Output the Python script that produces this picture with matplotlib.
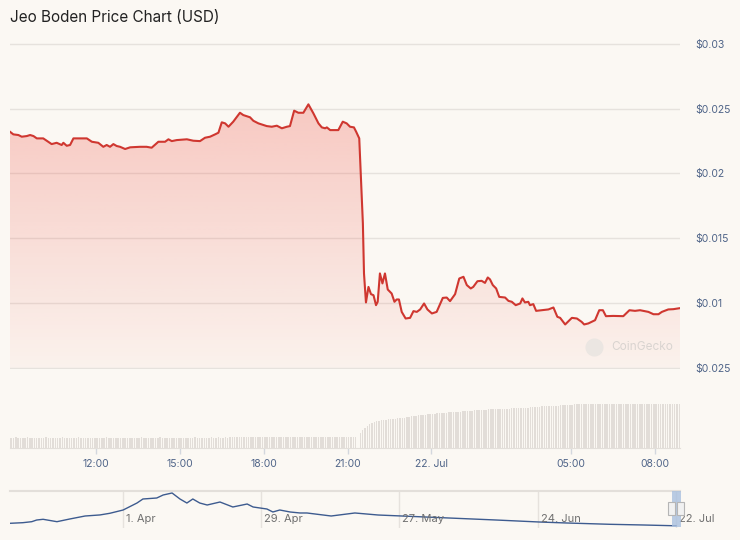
import numpy as np
import matplotlib.pyplot as plt
from matplotlib.colors import to_rgb
from matplotlib.lines import Line2D
from matplotlib.patches import Rectangle

plt.rcParams['font.family'] = ['Inter', 'DejaVu Sans']

W, H = 740, 540
BG = '#fbf8f3'
GRID = '#e6e2dd'
LABEL = '#4f6488'

# price, hours since 00:00 on 21 Jul
price_hours = [8.92, 9.04, 9.22, 9.34, 9.52, 9.64, 9.76, 9.88, 10.11, 10.41, 10.59, 10.77, 10.83,
               10.95, 11.07, 11.19, 11.67, 11.85, 12.08, 12.26, 12.38, 12.50, 12.62, 12.74, 12.86,
               13.04, 13.22, 13.57, 13.81, 13.99, 14.23, 14.47, 14.59, 14.71, 14.89, 15.25, 15.48,
               15.72, 15.90, 16.08, 16.26, 16.38, 16.50, 16.62, 16.74, 16.91, 17.04, 17.15, 17.27,
               17.51, 17.63, 17.81, 18.11, 18.29, 18.47, 18.65, 18.83, 18.94, 19.09, 19.24, 19.42,
               19.60, 19.78, 19.96, 20.08, 20.20, 20.26, 20.38, 20.67, 20.83, 20.97, 21.09, 21.23,
               21.31, 21.42, 21.55, 21.59, 21.66, 21.75, 21.84, 21.93, 22.02, 22.08, 22.16, 22.25,
               22.34, 22.44, 22.58, 22.68, 22.76, 22.84, 22.94, 23.08, 23.24, 23.36, 23.48, 23.60,
               23.74, 23.86, 24.02, 24.19, 24.41, 24.55, 24.67, 24.85, 25.00, 25.15, 25.27, 25.41,
               25.50, 25.65, 25.80, 25.92, 26.02, 26.10, 26.20, 26.32, 26.43, 26.64, 26.76, 26.88,
               27.02, 27.18, 27.26, 27.35, 27.47, 27.53, 27.65, 27.75, 27.95, 28.19, 28.37, 28.51,
               28.61, 28.79, 29.03, 29.21, 29.38, 29.47, 29.62, 29.86, 30.01, 30.14, 30.25, 30.51,
               30.87, 31.09, 31.29, 31.47, 31.77, 31.95, 32.13, 32.25, 32.48, 32.66, 32.90]
price_usd = [0.02322, 0.02302, 0.02297, 0.02284, 0.02289, 0.02297, 0.02289, 0.02271, 0.02271,
             0.02227, 0.02237, 0.02220, 0.02237, 0.02214, 0.02220, 0.02271, 0.02271, 0.02245,
             0.02237, 0.02206, 0.02220, 0.02206, 0.02227, 0.02212, 0.02206, 0.02189, 0.02202,
             0.02206, 0.02206, 0.02199, 0.02245, 0.02245, 0.02264, 0.02250, 0.02258, 0.02264,
             0.02253, 0.02250, 0.02276, 0.02284, 0.02302, 0.02315, 0.02395, 0.02387, 0.02361,
             0.02400, 0.02438, 0.02469, 0.02451, 0.02434, 0.02407, 0.02387, 0.02366, 0.02361,
             0.02369, 0.02349, 0.02361, 0.02366, 0.02485, 0.02469, 0.02469, 0.02534, 0.02464,
             0.02387, 0.02356, 0.02349, 0.02356, 0.02335, 0.02335, 0.02400, 0.02387, 0.02361,
             0.02356, 0.02322, 0.02271, 0.01614, 0.01228, 0.01004, 0.01124, 0.01068, 0.01060,
             0.00983, 0.01009, 0.01228, 0.01151, 0.01228, 0.01104, 0.01073, 0.01009, 0.01027,
             0.01027, 0.00931, 0.00880, 0.00885, 0.00937, 0.00931, 0.00950, 0.00996, 0.00950,
             0.00919, 0.00931, 0.01039, 0.01042, 0.01014, 0.01068, 0.01189, 0.01202, 0.01138,
             0.01112, 0.01124, 0.01168, 0.01171, 0.01155, 0.01197, 0.01182, 0.01138, 0.01112,
             0.01047, 0.01042, 0.01016, 0.01009, 0.00983, 0.00996, 0.01035, 0.01004, 0.01009,
             0.00983, 0.00991, 0.00939, 0.00944, 0.00950, 0.00965, 0.00893, 0.00885, 0.00834,
             0.00885, 0.00880, 0.00854, 0.00834, 0.00842, 0.00867, 0.00944, 0.00944, 0.00898,
             0.00900, 0.00898, 0.00944, 0.00939, 0.00944, 0.00931, 0.00913, 0.00913, 0.00931,
             0.00950, 0.00952, 0.00960]

price_ticks = [0.03, 0.025, 0.02, 0.015, 0.01, 0.005]
price_tick_labels = ['$0.03', '$0.025', '$0.02', '$0.015', '$0.01', '$0.025']

time_ticks = [12, 15, 18, 21, 24, 29, 32]
time_tick_labels = ['12:00', '15:00', '18:00', '21:00', '22. Jul', '05:00', '08:00']

# volume bars (thousand USD), one every 5 minutes, 12 per row
volume_k = [
    10.5, 10.3, 10.6, 10.4, 10.2, 10.5, 10.3, 10.6, 10.4, 10.3, 10.5, 10.4,
    10.3, 10.5, 10.4, 10.6, 10.3, 10.4, 10.2, 10.5, 10.4, 10.3, 10.6, 10.4,
    10.4, 10.2, 10.5, 10.3, 10.4, 10.6, 10.3, 10.4, 10.5, 10.3, 10.4, 10.2,
    10.5, 10.4, 10.3, 10.5, 10.4, 10.6, 10.3, 10.4, 10.5, 10.3, 10.4, 10.5,
    10.3, 10.4, 10.5, 10.4, 10.3, 10.5, 10.4, 10.3, 10.6, 10.4, 10.3, 10.5,
    10.4, 10.5, 10.3, 10.4, 10.6, 10.4, 10.3, 10.5, 10.4, 10.3, 10.5, 10.4,
    10.5, 10.3, 10.4, 10.5, 10.4, 10.3, 10.5, 10.6, 10.4, 10.5, 10.3, 10.4,
    10.4, 10.5, 10.6, 10.4, 10.5, 10.6, 10.5, 10.4, 10.6, 10.5, 10.6, 10.7,
    10.6, 10.7, 10.8, 10.7, 10.8, 10.9, 10.8, 10.9, 11.0, 10.9, 11.0, 11.1,
    11.2, 11.3, 11.2, 11.3, 11.2, 11.1, 11.2, 11.3, 11.2, 11.1, 11.2, 11.1,
    11.0, 11.1, 11.0, 11.1, 11.0, 11.1, 11.0, 10.9, 11.0, 11.1, 11.0, 11.1,
    11.0, 11.1, 11.2, 11.1, 11.0, 11.1, 11.2, 11.1, 11.0, 11.1, 11.2, 11.1,
    11.2, 11.1, 11.2, 11.0, 11.1, 0.0, 14.7, 18.0, 20.0, 22.0, 24.0, 25.5,
    26.3, 26.8, 27.2, 27.6, 28.0, 28.4, 28.7, 29.0, 29.3, 29.5, 29.8, 30.0,
    30.2, 30.5, 30.8, 31.2, 31.6, 32.0, 32.3, 32.6, 32.9, 33.2, 33.5, 33.7,
    34.0, 34.2, 34.5, 34.7, 34.9, 35.1, 35.3, 35.5, 35.7, 35.9, 36.0, 36.1,
    36.3, 36.5, 36.7, 36.9, 37.1, 37.3, 37.5, 37.7, 37.9, 38.0, 38.1, 38.2,
    38.4, 38.6, 38.7, 38.8, 38.9, 39.0, 39.1, 39.2, 39.3, 39.4, 39.5, 39.6,
    39.7, 39.8, 39.9, 40.0, 40.1, 40.3, 40.5, 40.7, 40.9, 41.1, 41.3, 41.5,
    41.6, 41.7, 41.8, 41.9, 42.0, 42.1, 42.2, 42.4, 42.6, 42.8, 43.0, 43.2,
    43.4, 43.5, 43.6, 43.7, 43.8, 43.8, 43.9, 43.9, 44.0, 44.0, 44.0, 44.0,
    44.0, 44.0, 43.9, 44.0, 44.0, 44.0, 43.9, 44.0, 44.0, 44.0, 44.0, 44.0,
    44.0, 44.0, 44.0, 43.9, 44.0, 44.0, 44.0, 44.0, 43.9, 44.0, 44.0, 44.0,
    44.0, 44.0, 44.0, 44.0, 44.0, 43.9, 44.0, 44.0, 44.0, 44.0, 44.0, 44.0,
]
volume_hours = 8.96 + np.arange(len(volume_k)) / 12

# navigator: days relative to 22 Jul, price in USD
nav_days = [-134.8, -132.2, -130.4, -129.4, -128.1, -125.3, -122.7, -119.6, -116.6, -114.6,
            -111.9, -109.1, -107.9, -105.1, -103.8, -102.0, -100.4, -99.0, -97.8, -96.4,
            -94.9, -92.3, -89.7, -86.8, -85.6, -82.8, -81.6, -80.2, -78.1, -76.1, -74.7,
            -69.8, -65.0, -60.3, -55.5, -46.0, -36.4, -27.7, -22.1, -20.0, -13.4, -6.7,
            -0.8, 0.0]
nav_usd = [0.0151, 0.0171, 0.0203, 0.0257, 0.0280, 0.0203, 0.0290, 0.0386, 0.0420, 0.0473,
           0.0579, 0.0804, 0.0933, 0.0965, 0.1062, 0.1126, 0.0933, 0.0804, 0.0933, 0.0804,
           0.0740, 0.0836, 0.0676, 0.0772, 0.0676, 0.0611, 0.0515, 0.0579, 0.0515, 0.0483,
           0.0483, 0.0386, 0.0483, 0.0418, 0.0386, 0.0322, 0.0257, 0.0193, 0.0161, 0.0151,
           0.0119, 0.0097, 0.0074, 0.0074]
nav_grid_days = [-112, -84, -56, -28, 0]
nav_grid_labels = ['1. Apr', '29. Apr', '27. May', '24. Jun', '22. Jul']


def box(x0, y0, x1, y1):
    # pixel box (top-left origin) -> figure fraction
    return [x0 / W, 1 - y1 / H, (x1 - x0) / W, (y1 - y0) / H]


fig = plt.figure(figsize=(W / 100, H / 100), dpi=100)
fig.patch.set_facecolor(BG)

fig.text(10 / W, 1 - 17 / H, 'Jeo Boden Price Chart (USD)', fontsize=11,
         color='#222222', va='center', ha='left')

# ---- price panel
ax = fig.add_axes(box(10, 42.7, 680, 369))
ax.set_facecolor('none')
ax.set_xlim(8.92, 32.90)
ax.set_ylim(0.0049, 0.0301)
for s in ax.spines.values():
    s.set_visible(False)
ax.set_xticks([])
ax.yaxis.tick_right()
ax.set_yticks(price_ticks)
ax.set_yticklabels(price_tick_labels)
ax.tick_params(axis='y', length=0, pad=11, labelsize=7.5, labelcolor=LABEL)
for lab in ax.get_yticklabels():
    lab.set_horizontalalignment('left')
for t in price_ticks:
    ax.axhline(t, color=GRID, lw=1, zorder=0)

grad = np.zeros((256, 1, 4))
grad[..., :3] = to_rgb('#f05a4f')
grad[..., 3] = np.linspace(0.36, 0.04, 256)[:, None]
im = ax.imshow(grad, aspect='auto', extent=[8.92, 32.90, 0.005, 0.03],
               origin='upper', zorder=1, interpolation='bilinear')
poly = ax.fill_between(price_hours, price_usd, 0.005, color='none', lw=0)
im.set_clip_path(poly.get_paths()[0], transform=ax.transData)
ax.plot(price_hours, price_usd, color='#cf3730', lw=1.5, zorder=3,
        solid_joinstyle='round')

# CoinGecko mark
fig.add_artist(Line2D([594 / W], [1 - 347 / H], marker='o', markersize=12,
                      color='#ebe6e2', transform=fig.transFigure))
fig.text(611 / W, 1 - 347 / H, 'CoinGecko', fontsize=8.5, color='#d9d4d0',
         va='center', ha='left')

# ---- volume panel
axv = fig.add_axes(box(10, 400, 680, 448))
axv.set_facecolor('none')
axv.bar(volume_hours, volume_k, width=0.055, color='#e2ddd8', lw=0)
axv.set_xlim(8.92, 32.90)
axv.set_ylim(0, 48)
for side in ['top', 'left', 'right']:
    axv.spines[side].set_visible(False)
axv.spines['bottom'].set_color('#e3dfda')
axv.set_yticks([])
axv.set_xticks(time_ticks)
axv.set_xticklabels(time_tick_labels)
axv.tick_params(axis='x', length=4, width=1, color='#d3d7de', pad=4,
                labelsize=7.5, labelcolor=LABEL)

# ---- navigator
axn = fig.add_axes(box(10, 490.7, 680, 528))
axn.set_facecolor('none')
axn.set_xlim(-134.8, 0.8)
axn.set_ylim(0, 0.12)
for s in axn.spines.values():
    s.set_visible(False)
axn.set_xticks([])
axn.set_yticks([])
axn.axhline(0.12, color='#e3dfda', lw=1.5, clip_on=False)
for d, lab in zip(nav_grid_days, nav_grid_labels):
    axn.axvline(d, color='#e6e2dd', lw=1, zorder=0)
    axn.text(d + 0.6, 0.24, lab, transform=axn.get_xaxis_transform(),
             fontsize=8, color='#6f6f6f', va='center', ha='left', clip_on=False)
axn.plot(nav_days, nav_usd, color='#3d5b8f', lw=1, zorder=2)

tr = axn.get_xaxis_transform()
axn.add_patch(Rectangle((-0.8, 0.03), 1.9, 0.97, transform=tr, color='#a9c0df',
                        alpha=0.8, lw=0, clip_on=False, zorder=3))
for x0 in [-1.6, 0.2]:
    axn.add_patch(Rectangle((x0, 0.35), 1.4, 0.35, transform=tr, facecolor='#f1f1f1',
                            edgecolor='#b5b5b5', lw=0.8, clip_on=False, zorder=4))

fig.savefig('out.png', dpi=100, facecolor=BG)
